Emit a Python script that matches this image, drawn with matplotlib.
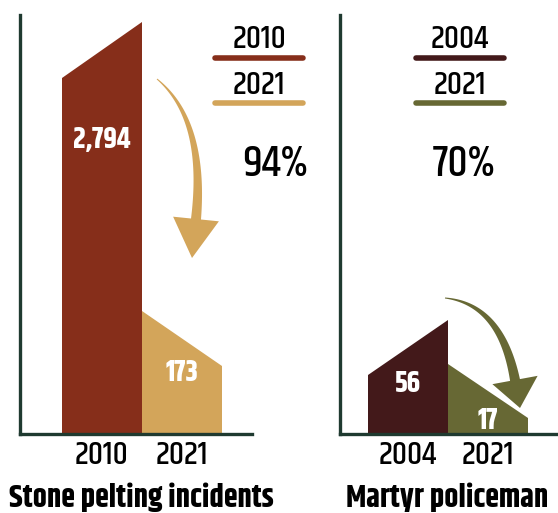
import numpy as np
import matplotlib.pyplot as plt
import matplotlib.transforms as mtransforms
from matplotlib.patches import Polygon

# data
stone_years = ['2010', '2021']
stone_values = [2794, 173]
stone_tops = [(356, 412), (123, 68)]     # stylised bar tops (left edge, right edge)
stone_colors = ['#862E1A', '#D3A55A']
stone_drop = '94%'

police_years = ['2004', '2021']
police_values = [56, 17]
police_tops = [(59, 114), (70, 16)]
police_colors = ['#43191A', '#676834']
police_drop = '70%'

W, H = 558, 513
plt.rcParams['font.family'] = ['Khand', 'Roboto', 'DejaVu Sans']
AXC = '#1F3A30'

fig = plt.figure(figsize=(W / 100, H / 100), dpi=100)
# pixel coordinates, origin top-left
pxt = mtransforms.Affine2D().scale(1 / W, -1 / H).translate(0, 1) + fig.transFigure


def panel(left, width, x0, years, values, tops, colors, title, title_x, drop, legend_x, drop_x, lab_y):
    ax = fig.add_axes([left / W, (H - 434) / H, width / W, 419 / H])
    ax.set_xlim((left - x0) / 80, (left + width - x0) / 80)
    ax.set_ylim(0, 419)
    for i, (yl, yr) in enumerate(tops):
        ax.add_patch(Polygon([(i, 0), (i, yl), (i + 1, yr), (i + 1, 0)],
                             closed=True, facecolor=colors[i], edgecolor='none'))
        ax.text(i + 0.5, lab_y[i], f'{values[i]:,}', ha='center', va='center',
                color='white', fontsize=21, fontweight='bold')
    ax.set_xticks([0.5, 1.5])
    ax.set_xticklabels(years, fontsize=24, fontweight='medium')
    ax.set_yticks([])
    ax.tick_params(axis='x', length=0, pad=4)
    for s in ['top', 'right']:
        ax.spines[s].set_visible(False)
    for s in ['left', 'bottom']:
        ax.spines[s].set_color(AXC)
        ax.spines[s].set_linewidth(2.4)
    fig.text(title_x, 497, title, transform=pxt,
             ha='center', va='center', fontsize=22.5, fontweight='bold')
    # stacked year key
    fig.text(legend_x, 38, years[0], transform=pxt, ha='center', va='center',
             fontsize=24, fontweight='medium')
    fig.text(legend_x, 84, years[1], transform=pxt, ha='center', va='center',
             fontsize=24, fontweight='medium')
    for yy, c in [(58, colors[0]), (103, colors[1])]:
        fig.add_artist(plt.Line2D([legend_x - 44, legend_x + 44], [yy, yy], transform=pxt,
                                  color=c, lw=4, solid_capstyle='round'))
    fig.text(drop_x, 163, drop, transform=pxt, ha='center', va='center',
             fontsize=32, fontweight='medium')
    return ax


def curved_arrow(p0, ctrl, p1, tip, w0, w1, head_w, color):
    p0, ctrl, p1, tip = map(np.array, (p0, ctrl, p1, tip))
    t = np.linspace(0, 1, 60)[:, None]
    pts = (1 - t) ** 2 * p0 + 2 * (1 - t) * t * ctrl + t ** 2 * p1
    d = 2 * (1 - t) * (ctrl - p0) + 2 * t * (p1 - ctrl)
    d /= np.linalg.norm(d, axis=1, keepdims=True)
    n = np.column_stack([-d[:, 1], d[:, 0]])
    w = (w0 + (w1 - w0) * t) / 2
    side_a = pts + n * w
    side_b = pts - n * w
    nd = n[-1]
    head = [p1 + nd * head_w / 2, tip, p1 - nd * head_w / 2]
    poly = np.vstack([side_a, head, side_b[::-1]])
    fig.add_artist(Polygon(poly, closed=True, transform=pxt, facecolor=color, edgecolor='none'))


ax1 = panel(20, 232, 62, stone_years, stone_values, stone_tops, stone_colors,
            'Stone pelting incidents', 141, stone_drop, 259, 275, [295, 62])
ax2 = panel(340, 218, 368, police_years, police_values, police_tops, police_colors,
            'Martyr policeman', 447, police_drop, 460, 464, [51, 14])

curved_arrow((157, 79), (206, 120), (196, 219), (192, 258), 1, 10, 46, stone_colors[1])
curved_arrow((445, 298), (501, 304), (515, 380), (520, 408), 1, 10, 46, police_colors[1])

fig.savefig('out.png', dpi=100)
